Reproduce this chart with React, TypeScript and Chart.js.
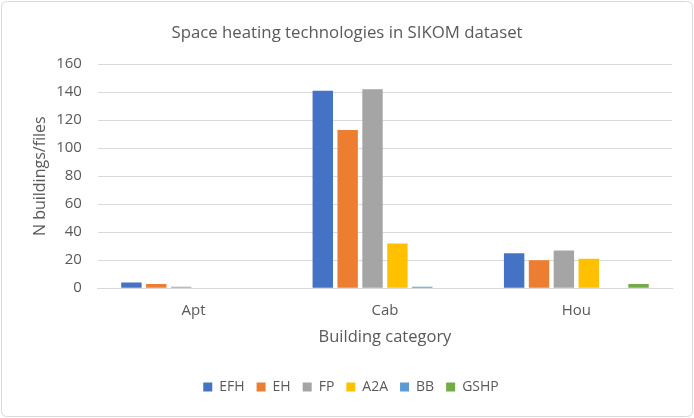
import React, { useEffect, useRef } from "react";
import { Chart, registerables } from "chart.js";

Chart.register(...registerables);

const categories = ["Apt", "Cab", "Hou"];
const seriesNames = ["EFH", "EH", "FP", "A2A", "BB", "GSHP"];
const efh = [4, 141, 25];
const eh = [3, 113, 20];
const fp = [1, 142, 27];
const a2a = [0, 32, 21];
const bb = [0, 1, 0];
const gshp = [0, 0, 3];
const colors = ["#4472C4", "#ED7D31", "#A5A5A5", "#FFC000", "#5B9BD5", "#70AD47"];
const yTicks = [0, 20, 40, 60, 80, 100, 120, 140, 160];
const titleText = "Space heating technologies in SIKOM dataset";

const FONT = "'Open Sans', 'Liberation Sans', sans-serif";
const TXT = "#595959";
const TITLE_SIZE = 16.8;
const TITLE_PAD_TOP = 9;

const borderPlugin = {
  id: "outerBorder",
  afterLayout(chart: any) {
    const lg = chart.legend;
    if (lg) {
      lg.left += 10;
      lg.right += 10;
    }
  },
  afterDraw(chart: any) {
    const { ctx, width, height } = chart;
    ctx.save();
    // centred title across the whole canvas
    const tb = chart.titleBlock;
    if (tb) {
      ctx.fillStyle = TXT;
      ctx.font = `normal ${TITLE_SIZE}px ${FONT}`;
      ctx.textAlign = "center";
      ctx.textBaseline = "middle";
      ctx.fillText(titleText, width / 2, tb.top + TITLE_PAD_TOP + (TITLE_SIZE * 1.2) / 2);
    }
    ctx.strokeStyle = "#d9d9d9";
    ctx.lineWidth = 1;
    const r = 6;
    const x = 1.5, y = 1.5, w = width - 3, h = height - 3;
    ctx.beginPath();
    ctx.moveTo(x + r, y);
    ctx.lineTo(x + w - r, y);
    ctx.quadraticCurveTo(x + w, y, x + w, y + r);
    ctx.lineTo(x + w, y + h - r);
    ctx.quadraticCurveTo(x + w, y + h, x + w - r, y + h);
    ctx.lineTo(x + r, y + h);
    ctx.quadraticCurveTo(x, y + h, x, y + h - r);
    ctx.lineTo(x, y + r);
    ctx.quadraticCurveTo(x, y, x + r, y);
    ctx.stroke();
    ctx.restore();
  },
};

export default function App() {
  const ref = useRef<HTMLCanvasElement>(null);
  useEffect(() => {
    const data = [efh, eh, fp, a2a, bb, gshp];
    const chart = new Chart(ref.current!, {
      type: "bar",
      data: {
        labels: categories,
        datasets: seriesNames.map((n, i) => ({
          label: n,
          data: data[i],
          backgroundColor: colors[i],
          borderWidth: 0,
          categoryPercentage: 0.78,
          barPercentage: 0.82,
        })),
      },
      options: {
        animation: false,
        responsive: false,
        maintainAspectRatio: false,
        layout: { padding: { left: 10, right: 22, top: 14, bottom: 14 } },
        plugins: {
          title: {
            display: true,
            text: titleText,
            color: "rgba(0,0,0,0)",
            font: { family: FONT, size: TITLE_SIZE, weight: "normal" },
            padding: { top: TITLE_PAD_TOP, bottom: 21 },
          },
          legend: {
            position: "bottom",
            labels: {
              color: TXT,
              font: { family: FONT, size: 14 },
              boxWidth: 9,
              boxHeight: 9,
              padding: 12,
            },
          },
          tooltip: { enabled: false },
        },
        scales: {
          x: {
            grid: { display: false, drawTicks: false },
            border: { color: "#d9d9d9", width: 1 },
            ticks: { color: TXT, font: { family: FONT, size: 15 }, padding: 14 },
            title: {
              display: true,
              text: "Building category",
              color: TXT,
              font: { family: FONT, size: 16.5 },
              padding: { top: -7, bottom: 21 },
            },
          },
          y: {
            min: 0,
            max: 160,
            afterBuildTicks: (axis: any) => {
              axis.ticks = yTicks.map((v) => ({ value: v }));
            },
            grid: { color: "#d9d9d9", drawTicks: false },
            border: { display: false },
            ticks: { color: TXT, font: { family: FONT, size: 15 }, padding: 16 },
            title: {
              display: true,
              text: "N buildings/files",
              color: TXT,
              font: { family: FONT, size: 16 },
              padding: { top: 21, bottom: -10 },
            },
          },
        },
      },
      plugins: [borderPlugin],
    });
    return () => chart.destroy();
  }, []);
  return (
    <div style={{ position: "fixed", left: 0, top: 0, width: 694, height: 418, background: "#fff" }}>
      <canvas ref={ref} width={694} height={418} />
    </div>
  );
}
